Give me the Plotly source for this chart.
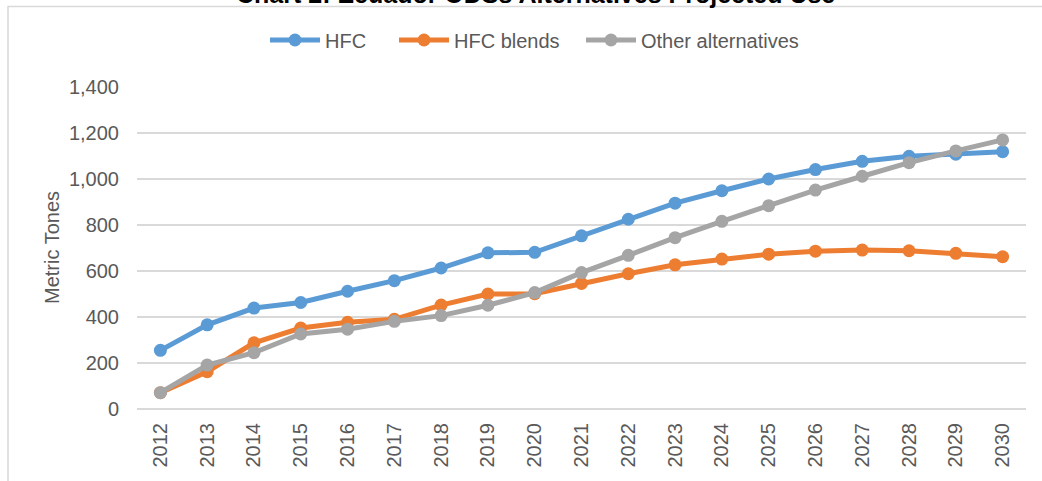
import plotly.graph_objects as go

years = [str(y) for y in range(2012, 2031)]
hfc = [255, 366, 439, 463, 512, 558, 613, 679, 681, 753, 825, 895, 949, 1000, 1041, 1077, 1099, 1108, 1119]
hfc_blends = [71, 162, 288, 352, 377, 390, 452, 500, 501, 546, 588, 627, 652, 673, 686, 691, 688, 677, 662]
other_alt = [71, 191, 245, 326, 347, 381, 406, 451, 506, 593, 668, 745, 816, 884, 952, 1012, 1071, 1122, 1170]
y_ticks = [0, 200, 400, 600, 800, 1000, 1200, 1400]

series = [
    ("HFC", hfc, "#5B9BD5", "legend"),
    ("HFC blends", hfc_blends, "#ED7D31", "legend2"),
    ("Other alternatives", other_alt, "#A5A5A5", "legend3"),
]

FONT = "Liberation Sans, Arial, sans-serif"
TXT = "#595959"

fig = go.Figure()
for name, vals, col, lg in series:
    fig.add_trace(go.Scatter(
        x=years, y=vals, name=name, mode="lines+markers",
        line=dict(color=col, width=5),
        marker=dict(color=col, size=13),
        legend=lg,
    ))

W, H = 1042, 481
L, R, T, B = 137, 16, 87, 72
pw, ph = W - L - R, H - T - B

def px(x):
    return (x - L) / pw

def py(y):
    return (H - B - y) / ph

def leg(xpix):
    return dict(
        orientation="h", x=px(xpix), xanchor="left", y=py(40), yanchor="middle",
        font=dict(size=20, color=TXT, family=FONT), bgcolor="rgba(0,0,0,0)",
        itemwidth=50,
    )

fig.update_layout(
    width=W, height=H,
    margin=dict(l=L, r=R, t=T, b=B, autoexpand=False),
    paper_bgcolor="white", plot_bgcolor="white",
    font=dict(family=FONT, size=20, color=TXT),
    showlegend=True,
    legend=leg(265),
    legend2=leg(394),
    legend3=leg(581),
    xaxis=dict(
        type="category", range=[-0.5, 18.5], tickangle=-90,
        showgrid=False, zeroline=False, showline=False, ticks="",
        tickfont=dict(size=20, color=TXT), ticklabelstandoff=9,
    ),
    yaxis=dict(
        range=[0, 1400], tickvals=y_ticks, tickformat=",",
        showgrid=True, gridcolor="#D9D9D9", gridwidth=1.5,
        zeroline=True, zerolinecolor="#D9D9D9", zerolinewidth=1.5,
        showline=False, ticks="",
        tickfont=dict(size=20, color=TXT), ticklabelstandoff=17,
    ),
    annotations=[
        dict(text="Metric Tones", textangle=-90, xref="paper", yref="paper",
             x=px(52), y=0.5, xanchor="center", yanchor="middle", showarrow=False,
             font=dict(size=20, color=TXT, family=FONT)),
        dict(text="<b>Chart 2: Ecuador ODSs Alternatives Projected Use</b>",
             xref="paper", yref="paper", x=px(535), y=py(10), xanchor="center",
             yanchor="bottom", showarrow=False,
             font=dict(size=25, color="#000000", family=FONT)),
    ],
    shapes=[
        dict(type="rect", xref="paper", yref="paper",
             x0=px(8), x1=px(1200), y0=py(700), y1=py(6.5),
             line=dict(color="#D9D9D9", width=1.5), fillcolor="rgba(0,0,0,0)",
             layer="below"),
    ],
)

fig.write_html("out.html", config={"displayModeBar": False},
               post_script="document.body.style.margin='0';")
